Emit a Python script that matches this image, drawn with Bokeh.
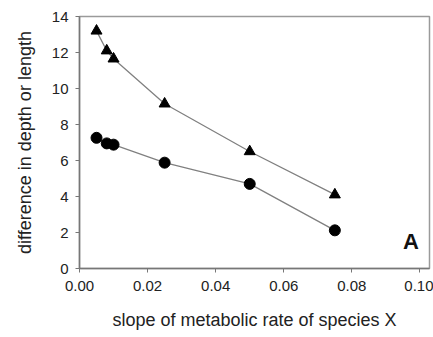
from bokeh.plotting import figure
from bokeh.models import Range1d, FixedTicker, Label
from bokeh.embed import file_html
from bokeh.resources import INLINE

x_vals = [0.005, 0.008, 0.010, 0.025, 0.050, 0.075]
tri_vals = [13.2, 12.1, 11.65, 9.15, 6.5, 4.1]
circ_vals = [7.26, 6.95, 6.88, 5.88, 4.7, 2.12]
x_ticks = [0.0, 0.02, 0.04, 0.06, 0.08, 0.10]
y_ticks = [0, 2, 4, 6, 8, 10, 12, 14]

FONT = "Liberation Sans"

p = figure(width=433, height=337, output_backend="svg", toolbar_location=None,
           x_range=Range1d(0, 0.1028), y_range=Range1d(0, 14))
p.min_border_left = 79
p.min_border_right = 4
p.min_border_top = 16
p.min_border_bottom = 69
p.background_fill_color = "white"
p.border_fill_color = "white"
p.outline_line_color = "#9a9a9a"
p.outline_line_width = 1.5
p.xgrid.visible = False
p.ygrid.visible = False

p.xaxis.ticker = FixedTicker(ticks=x_ticks)
p.yaxis.ticker = FixedTicker(ticks=y_ticks)
p.xaxis.major_label_overrides = {t: f"{t:.2f}" for t in x_ticks}

for ax in (p.xaxis[0], p.yaxis[0]):
    ax.axis_line_color = "#777777"
    ax.axis_line_width = 1.5
    ax.major_tick_line_color = "#777777"
    ax.major_tick_in = 0
    ax.major_tick_out = 4
    ax.minor_tick_line_color = None
    ax.major_label_text_font = FONT
    ax.major_label_text_font_size = "15px"
    ax.major_label_text_color = "#222222"
    ax.axis_label_text_font = FONT
    ax.axis_label_text_font_size = "18px"
    ax.axis_label_text_font_style = "normal"
    ax.axis_label_text_color = "#222222"

p.xaxis.axis_label = "slope of metabolic rate of species X"
p.yaxis.axis_label = "difference in depth or length"
p.xaxis.major_label_standoff = 8
p.xaxis.axis_label_standoff = 16
p.yaxis.major_label_standoff = 7
p.yaxis.axis_label_standoff = 14

p.line(x_vals, tri_vals, line_color="#808080", line_width=1.3)
p.line(x_vals, circ_vals, line_color="#808080", line_width=1.3)
p.scatter(x_vals, tri_vals, marker="triangle", size=11, fill_color="black", line_color="black")
p.scatter(x_vals, circ_vals, marker="circle", size=11, fill_color="black", line_color="black")

p.add_layout(Label(x=0.0997, y=0.8, text="A", text_font=FONT, text_font_size="22px",
                   text_font_style="bold", text_color="#111111", text_align="right"))

open("out.html", "w").write(file_html(p, INLINE))
